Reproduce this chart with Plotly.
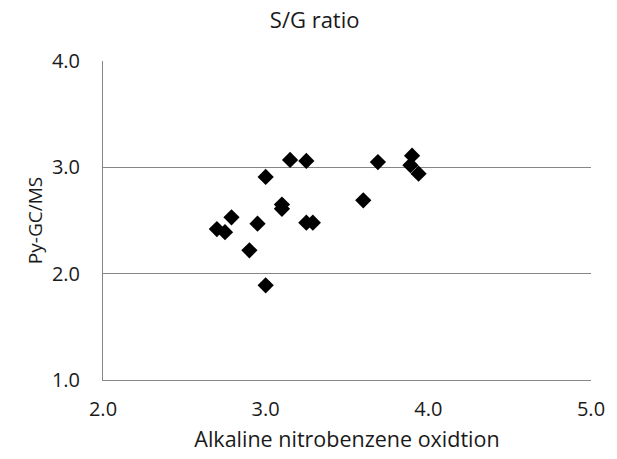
import plotly.graph_objects as go

# Alkaline nitrobenzene oxidation S/G ratio (x) vs Py-GC/MS S/G ratio (y)
anox_sg = [2.70, 2.75, 2.79, 2.90, 2.95, 3.00, 3.00, 3.10, 3.10, 3.15, 3.25, 3.25,
           3.29, 3.60, 3.69, 3.90, 3.89, 3.94]
pygcms_sg = [2.42, 2.39, 2.53, 2.22, 2.47, 2.91, 1.89, 2.65, 2.61, 3.07, 3.06, 2.48,
             2.48, 2.69, 3.05, 3.11, 3.02, 2.94]

x_ticks = [2.0, 3.0, 4.0, 5.0]
y_ticks = [1.0, 2.0, 3.0, 4.0]

FONT = "Open Sans"
TEXT = "#1a1a1a"
GRID = "#868686"

fig = go.Figure(
    go.Scatter(
        x=anox_sg,
        y=pygcms_sg,
        mode="markers",
        marker=dict(symbol="diamond", size=12.5, color="#000000", line=dict(width=0)),
        showlegend=False,
    )
)

fig.update_layout(
    width=617,
    height=459,
    margin=dict(l=103, r=17, t=61, b=78),
    paper_bgcolor="white",
    plot_bgcolor="white",
    font=dict(family=FONT, size=20, color=TEXT),
    title=dict(text="S/G ratio", x=0.51, xanchor="center", y=0.955, yanchor="middle",
               font=dict(family=FONT, size=22, color=TEXT)),
)

fig.update_xaxes(
    range=[2.0, 5.0],
    tickvals=x_ticks,
    tickformat=".1f",
    tickfont=dict(size=20),
    showgrid=False,
    zeroline=False,
    showline=True,
    linecolor=GRID,
    linewidth=1,
    ticks="",
    ticklabelstandoff=11,
    title=dict(text="Alkaline nitrobenzene oxidtion", font=dict(family=FONT, size=21.5, color=TEXT),
               standoff=10),
)

fig.update_yaxes(
    range=[1.0, 4.0],
    tickvals=y_ticks,
    tickformat=".1f",
    tickfont=dict(size=20),
    showgrid=True,
    gridcolor=GRID,
    gridwidth=1,
    zeroline=False,
    showline=True,
    linecolor=GRID,
    linewidth=1,
    ticks="",
    ticklabelstandoff=18,
    title=dict(text="Py-GC/MS", font=dict(family=FONT, size=19, color=TEXT), standoff=4),
)

fig.write_html("out.html")
